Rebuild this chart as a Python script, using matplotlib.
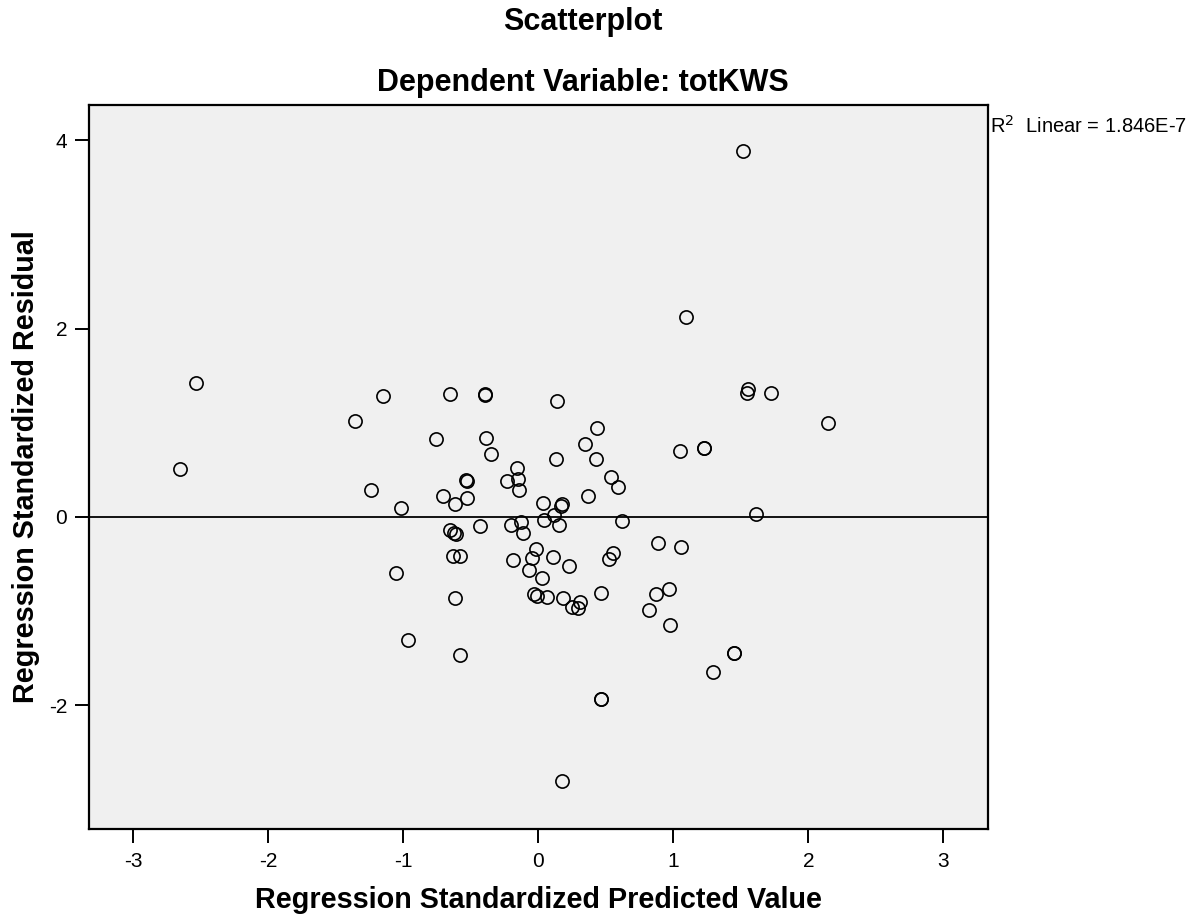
import numpy as np
import matplotlib
matplotlib.use("Agg")
import matplotlib.pyplot as plt

plt.rcParams['font.family'] = ['Liberation Sans', 'DejaVu Sans']
plt.rcParams['axes.unicode_minus'] = False

# standardized predicted values / standardized residuals
pred = [-2.654, -2.539, -1.357, -1.243, -1.152, -1.053, -1.021, -0.967,
        -0.759, -0.707, -0.655, -0.652, -0.626, -0.613, -0.630, -0.615,
        -0.615, -0.583, -0.578, -0.537, -0.532, -0.531, -0.430, -0.398,
        -0.393, -0.385, -0.351, -0.230, -0.200, -0.188, -0.156, -0.151,
        -0.141, -0.126, -0.111, -0.070, -0.045, -0.033, -0.015, -0.008,
        0.024, 0.034, 0.042, 0.064, 0.108, 0.116, 0.128, 0.138,
        0.153, 0.165, 0.172, 0.175, 0.180, 0.227, 0.252, 0.294,
        0.306, 0.348, 0.365, 0.427, 0.430, 0.460, 0.462, 0.464,
        0.521, 0.538, 0.551, 0.590, 0.620, 0.818, 0.870, 0.884,
        0.968, 0.973, 1.045, 1.053, 1.090, 1.223, 1.226, 1.290,
        1.446, 1.449, 1.512, 1.542, 1.554, 1.611, 1.722, 2.147]
resid = [0.510, 1.427, 1.020, 0.287, 1.289, -0.595, 0.092, -1.304,
         0.829, 0.223, 1.304, -0.138, -0.167, -0.184, -0.411, 0.141,
         -0.864, -0.411, -1.467, 0.390, 0.380, 0.202, -0.096, 1.304,
         1.300, 0.840, 0.673, 0.386, -0.085, -0.457, 0.524, 0.407,
         0.287, -0.050, -0.170, -0.563, -0.432, -0.822, -0.344, -0.840,
         -0.648, 0.152, -0.032, -0.853, -0.422, 0.024, 0.613, 1.233,
         -0.085, 0.118, 0.132, -2.806, -0.861, -0.524, -0.953, -0.970,
         -0.900, 0.779, 0.223, 0.620, 0.949, -1.931, -1.935, -0.808,
         -0.450, 0.428, -0.379, 0.322, -0.043, -0.985, -0.822, -0.276,
         -0.762, -1.144, 0.705, -0.315, 2.125, 0.730, 0.735, -1.647,
         -1.445, -1.450, 3.890, 1.321, 1.360, 0.032, 1.314, 0.999]

# linear fit (R squared ~ 0)
fit_intercept = 0.0
fit_slope = 0.0
r2_text = "Linear = 1.846E-7"

x_ticks = [-3, -2, -1, 0, 1, 2, 3]
y_ticks = [-2, 0, 2, 4]

fig = plt.figure(figsize=(12.04, 9.22), dpi=100)
ax = fig.add_axes([0.0743, 0.1005, 0.7461, 0.7859])
ax.set_facecolor('#f0f0f0')

ax.set_xlim(-3.326, 3.328)
ax.set_ylim(-3.32, 4.38)

xs = np.array(ax.get_xlim())
ax.plot(xs, fit_intercept + fit_slope * xs, color='black', lw=1.3, zorder=2)

ax.plot(pred, resid, linestyle='none', marker='o', markersize=9.5,
        markerfacecolor='none', markeredgecolor='black', markeredgewidth=1.2,
        zorder=3)

for s in ax.spines.values():
    s.set_linewidth(1.6)
ax.set_xticks(x_ticks)
ax.set_yticks(y_ticks)
ax.tick_params(direction='out', length=10, width=1.4, labelsize=15, pad=6)

ax.set_xlabel("Regression Standardized Predicted Value", fontsize=20.7,
              fontweight='bold')
ax.set_ylabel("Regression Standardized Residual", fontsize=20.7,
              fontweight='bold')
ax.xaxis.set_label_coords(0.5, -0.0976)
ax.xaxis.label.set_va('center')
ax.yaxis.set_label_coords(-0.0707, 0.5)
ax.yaxis.label.set_va('center')

fig.text(0.484, 0.976, "Scatterplot", ha='center', va='center',
         fontsize=22, fontweight='bold')
fig.text(0.484, 0.910, "Dependent Variable: totKWS", ha='center', va='center',
         fontsize=22, fontweight='bold')
fig.text(0.8223, 0.8633, "R$^{2}$  " + r2_text, ha='left', va='center',
         fontsize=14.5)

fig.savefig("out.png", dpi=100)
